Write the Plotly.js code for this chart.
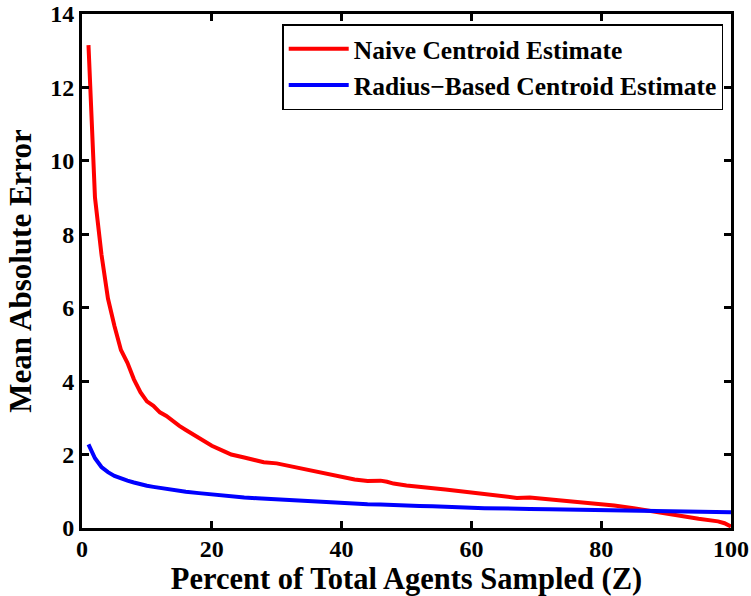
<!DOCTYPE html>
<html>
<head>
<meta charset="utf-8">
<script src="https://cdn.plot.ly/plotly-3.0.1.min.js"></script>
<style>html,body{margin:0;padding:0;background:#fff;}#chart{width:751px;height:596px;}</style>
</head>
<body>
<div id="chart"></div>
<script>
const xValues = [1,2,3,4,5,6,7,8,9,10,11,12,13,14,15,16,18,20,22,23,25,27,28,30,32,34,36,38,40,42,44,46,47,48,50,52,54,56,58,60,62,64,66,67,69,72,75,77,80,82,85,88,90,93,95,98,99,100];
const naiveError = [13.15,9.0,7.45,6.25,5.5,4.85,4.5,4.05,3.7,3.45,3.33,3.15,3.05,2.9,2.78,2.67,2.45,2.24,2.08,2.0,1.92,1.83,1.79,1.76,1.69,1.62,1.54,1.46,1.40,1.32,1.28,1.29,1.26,1.21,1.16,1.13,1.09,1.05,1.01,0.97,0.91,0.87,0.85,0.82,0.83,0.78,0.73,0.70,0.66,0.61,0.54,0.45,0.39,0.31,0.25,0.18,0.13,0.04];
const radiusError = [2.28,1.9,1.66,1.52,1.42,1.35,1.29,1.24,1.19,1.15,1.12,1.09,1.07,1.04,1.01,0.99,0.95,0.91,0.88,0.86,0.83,0.81,0.80,0.77,0.75,0.73,0.72,0.70,0.68,0.66,0.65,0.64,0.63,0.62,0.61,0.60,0.59,0.57,0.56,0.55,0.54,0.54,0.53,0.53,0.52,0.51,0.50,0.49,0.48,0.47,0.46,0.45,0.45,0.44,0.44,0.43,0.43,0.43];
const seriesNames = ["Naive Centroid Estimate", "Radius\u2212Based Centroid Estimate"];
const xTicks = [0,20,40,60,80,100];
const yTicks = [0,2,4,6,8,10,12,14];

const font = "Liberation Serif, Times New Roman, serif";
const traces = [
  {x: xValues, y: naiveError, name: seriesNames[0], mode: "lines", line: {color: "rgb(255,0,0)", width: 4}},
  {x: xValues, y: radiusError, name: seriesNames[1], mode: "lines", line: {color: "rgb(0,0,255)", width: 4}}
];
const axisCommon = {
  showgrid: false, zeroline: false, showline: true, linecolor: "#000", linewidth: 3,
  mirror: "ticks", ticks: "inside", ticklen: 7, tickwidth: 3, tickcolor: "#000",
  tickfont: {family: font, size: 24, color: "#000", weight: "bold"}
};
const layout = {
  width: 751, height: 596,
  margin: {l: 82, r: 20, t: 14, b: 68},
  paper_bgcolor: "#fff", plot_bgcolor: "#fff",
  font: {family: font, color: "#000"},
  xaxis: Object.assign({}, axisCommon, {
    range: [0, 100], tickvals: xTicks, ticktext: xTicks.map(String),
    ticklabelstandoff: -3,
    title: {text: "<b>Percent of Total Agents Sampled (Z)</b>", font: {family: font, size: 30.5, color: "#000"}, standoff: 11}
  }),
  yaxis: Object.assign({}, axisCommon, {
    range: [0, 14], tickvals: yTicks, ticktext: yTicks.map(String),
    title: {text: "<b>Mean Absolute Error</b>", font: {family: font, size: 31, color: "#000"}, standoff: 10}
  }),
  legend: {
    x: 0.988, y: 0.98, xanchor: "right", yanchor: "top",
    bgcolor: "#fff", bordercolor: "#000", borderwidth: 1.5,
    font: {family: font, size: 25.5, color: "#000", weight: "bold"},
    itemwidth: 60, tracegroupgap: 0
  },
  showlegend: true
};
Plotly.newPlot("chart", traces, layout, {staticPlot: true, displayModeBar: false});
</script>
</body>
</html>
